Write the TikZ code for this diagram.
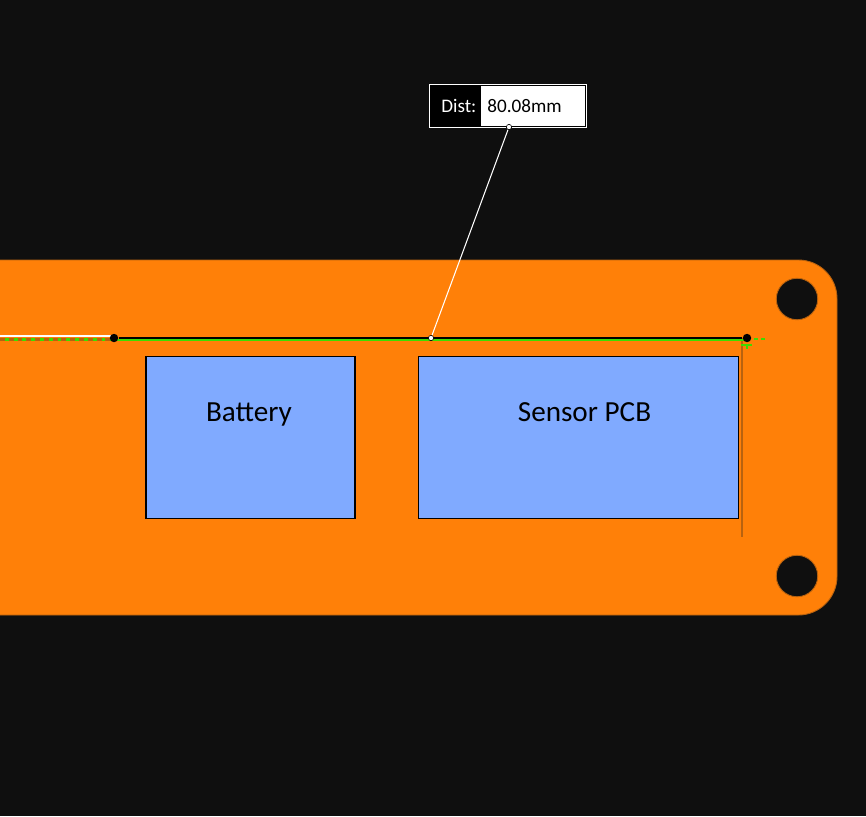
\documentclass[tikz,border=0pt]{standalone}
\usepackage{fontspec}
\setmainfont{Carlito}
\usetikzlibrary{calc,positioning}
\definecolor{scene}{HTML}{0F0F0F}
\definecolor{plate}{HTML}{FF8008}
\definecolor{plate edge}{HTML}{B8620F}
\definecolor{bay}{HTML}{80AAFF}
\definecolor{snap}{HTML}{3CDC00}
\pgfdeclarelayer{front}
\pgfsetlayers{main,front}
\tikzset{
    block/.style     = {draw=black, line width=0.7pt, fill=bay, inner sep=0pt},
    sig/.style       = {font=\fontsize{16.6}{20}\selectfont, text=black, anchor=base},
    tag/.style       = {font=\fontsize{10.9}{13}\selectfont, inner sep=0pt, anchor=base west},
    handle/.style    = {circle, fill=black, inner sep=0pt, minimum size=4.8pt},
    pin/.style       = {circle, draw=black, line width=0.35pt, fill=white, inner sep=0pt, minimum size=3pt},
    hole/.style      = {circle, draw=plate edge, line width=0.5pt, fill=scene, inner sep=0pt, minimum size=23.6pt},
    edge line/.style = {line width=0.9pt, plate edge},
    guide/.style     = {line width=0.7pt, snap}
}

\begin{document}
\begin{tikzpicture}[x=0.02cm, y=-0.02cm]

% ================= Scene and plate =================
\useasboundingbox (0, 0) rectangle (866, 816);
\fill[scene] (0, 0) rectangle (866, 816);
\begin{scope}
\clip (0, 0) rectangle (866, 816);
\draw[fill=plate, draw=plate edge, line width=0.5pt, rounded corners=22pt]
    (-60, 260) -- (837, 260) -- (837, 615) -- (-60, 615) -- cycle;
\end{scope}
\node[hole] (upper hole) at (797, 299) {};
\node[hole] (lower hole) at (797, 576) {};

% ================= Bays =================
\node[block, minimum width=119pt, minimum height=91.8pt] (battery) at (250.5, 437.5) {};
\node[block, minimum width=182pt, minimum height=91.8pt] (sensor) at (578.5, 437.5) {};
\node[sig] (battery text) at (249, 421) {Battery};
\node[sig] (sensor text) at (584.5, 421) {Sensor PCB};

% ================= Measured line =================
\coordinate (far left) at (0, 336);
\coordinate (rail left) at (0, 339.5);
\coordinate (drop end) at (742, 537);
\begin{pgfonlayer}{front}
\node[handle] (start) at (114, 338) {};
\node[handle] (end) at (747, 338) {};
\node[pin] (foot) at (431, 338) {};
\end{pgfonlayer}
\draw[edge line] (742, 338) -- (drop end);
\draw[guide] ($(start.center)+(0, 2)$) -- ($(end.center)+(-2, 2)$);
\draw[line width=0.9pt, black] (start) -- (end);
\draw[white, line width=0.7pt] (far left) -- ($(start.center)+(0, -2)$);
\draw[snap, line width=1.4pt] (rail left) -- ($(start.center)+(0, 1.5)$);
\draw[plate edge, line width=1.4pt, dash pattern=on 2.8pt off 2.2pt] (rail left) -- ($(start.center)+(0, 1.5)$);
\draw[snap, line width=1.6pt, dash pattern=on 2.2pt off 2pt] (754, 339) -- (766, 339);
\draw[guide] (741, 345) -- (752, 345);
\draw[guide] (747, 345) -- (747, 349);

% ================= Callout =================
\node[draw=white, fill=black, line width=0.6pt, minimum width=89.6pt, minimum height=24.9pt, inner sep=0pt] (callout) at (508, 106) {};
\node[draw=black, fill=white, line width=0.4pt, minimum width=60pt, minimum height=23.6pt, inner sep=0pt, anchor=east] (value) at (586, 106) {};
\node[tag, text=white] (dist text) at (441, 112) {Dist:};
\node[tag, text=black] (value text) at (487, 112) {80.08mm};
\node[pin] (top pin) at (509, 127) {};
\draw[white, line width=0.6pt] (top pin) -- (foot);

\end{tikzpicture}
\end{document}
